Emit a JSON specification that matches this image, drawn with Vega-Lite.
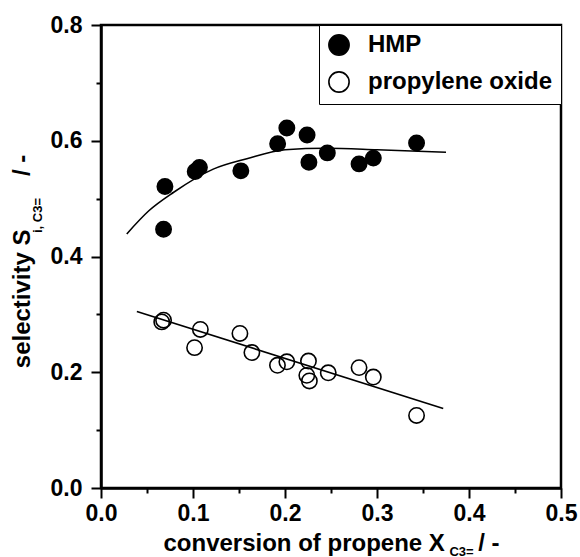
{
  "$schema": "https://vega.github.io/schema/vega-lite/v6.json",
  "width": 460,
  "height": 463,
  "autosize": {"type": "none"},
  "padding": {"left": 101, "top": 25, "right": 19, "bottom": 69},
  "background": "white",
  "config": {
    "font": "Liberation Sans",
    "view": {"stroke": "black", "strokeWidth": 2.5},
    "axis": {
      "grid": false,
      "domainColor": "black",
      "domainWidth": 2.5,
      "tickColor": "black",
      "tickWidth": 2,
      "labelFont": "Liberation Sans",
      "labelFontWeight": "bold",
      "labelFontSize": 23,
      "labelColor": "black",
      "labelFlush": false,
      "labelOverlap": false,
      "titleFont": "Liberation Sans",
      "titleFontWeight": "bold",
      "titleColor": "black"
    }
  },
  "data": {
    "values": [
      {"kind": "pt", "series": "HMP", "x": 0.068, "y": 0.447},
      {"kind": "pt", "series": "HMP", "x": 0.0695, "y": 0.521},
      {"kind": "pt", "series": "HMP", "x": 0.1024, "y": 0.547},
      {"kind": "pt", "series": "HMP", "x": 0.107, "y": 0.554},
      {"kind": "pt", "series": "HMP", "x": 0.152, "y": 0.548},
      {"kind": "pt", "series": "HMP", "x": 0.192, "y": 0.595},
      {"kind": "pt", "series": "HMP", "x": 0.202, "y": 0.622},
      {"kind": "pt", "series": "HMP", "x": 0.224, "y": 0.61},
      {"kind": "pt", "series": "HMP", "x": 0.226, "y": 0.563},
      {"kind": "pt", "series": "HMP", "x": 0.246, "y": 0.579},
      {"kind": "pt", "series": "HMP", "x": 0.2805, "y": 0.56},
      {"kind": "pt", "series": "HMP", "x": 0.296, "y": 0.57},
      {"kind": "pt", "series": "HMP", "x": 0.343, "y": 0.596},
      {"kind": "pt", "series": "propylene oxide", "x": 0.066, "y": 0.287},
      {"kind": "pt", "series": "propylene oxide", "x": 0.068, "y": 0.29},
      {"kind": "pt", "series": "propylene oxide", "x": 0.1017, "y": 0.2425},
      {"kind": "pt", "series": "propylene oxide", "x": 0.108, "y": 0.274},
      {"kind": "pt", "series": "propylene oxide", "x": 0.151, "y": 0.267},
      {"kind": "pt", "series": "propylene oxide", "x": 0.164, "y": 0.234},
      {"kind": "pt", "series": "propylene oxide", "x": 0.1918, "y": 0.212},
      {"kind": "pt", "series": "propylene oxide", "x": 0.202, "y": 0.218},
      {"kind": "pt", "series": "propylene oxide", "x": 0.2237, "y": 0.1946},
      {"kind": "pt", "series": "propylene oxide", "x": 0.2255, "y": 0.2194},
      {"kind": "pt", "series": "propylene oxide", "x": 0.2265, "y": 0.185},
      {"kind": "pt", "series": "propylene oxide", "x": 0.247, "y": 0.199},
      {"kind": "pt", "series": "propylene oxide", "x": 0.2805, "y": 0.208},
      {"kind": "pt", "series": "propylene oxide", "x": 0.296, "y": 0.1917},
      {"kind": "pt", "series": "propylene oxide", "x": 0.343, "y": 0.1254},
      {"kind": "fit", "series": "HMP", "x": 0.028, "y": 0.439},
      {"kind": "fit", "series": "HMP", "x": 0.052, "y": 0.479},
      {"kind": "fit", "series": "HMP", "x": 0.079, "y": 0.511},
      {"kind": "fit", "series": "HMP", "x": 0.122, "y": 0.551},
      {"kind": "fit", "series": "HMP", "x": 0.1585, "y": 0.569},
      {"kind": "fit", "series": "HMP", "x": 0.2, "y": 0.5845},
      {"kind": "fit", "series": "HMP", "x": 0.245, "y": 0.587},
      {"kind": "fit", "series": "HMP", "x": 0.3, "y": 0.5845},
      {"kind": "fit", "series": "HMP", "x": 0.375, "y": 0.58},
      {"kind": "fit", "series": "propylene oxide", "x": 0.039, "y": 0.305},
      {"kind": "fit", "series": "propylene oxide", "x": 0.372, "y": 0.1375}
    ]
  },
  "layer": [
    {
      "encoding": {
        "x": {
          "field": "x", "type": "quantitative",
          "scale": {"domain": [0, 0.5], "nice": false, "zero": false},
          "axis": {
            "orient": "bottom",
            "values": [0, 0.05, 0.1, 0.15, 0.2, 0.25, 0.3, 0.35, 0.4, 0.45, 0.5],
            "labelExpr": "round(datum.value*20)%2==0 ? format(datum.value,'.1f') : ''",
            "tickSize": {"condition": {"test": "round(datum.value*20)%2==1", "value": 5}, "value": 10},
            "labelPadding": 4,
            "title": "conversion of propene X\u00a0\u00a0\u00a0\u00a0\u00a0/ -",
            "titleFontSize": 24,
            "titleX": 230,
            "titleY": 62,
            "titleAlign": "center",
            "titleBaseline": "alphabetic"
          }
        },
        "y": {
          "field": "y", "type": "quantitative",
          "scale": {"domain": [0, 0.8], "nice": false, "zero": false},
          "axis": {
            "orient": "left",
            "values": [0, 0.1, 0.2, 0.3, 0.4, 0.5, 0.6, 0.7, 0.8],
            "labelExpr": "round(datum.value*10)%2==0 ? format(datum.value,'.1f') : ''",
            "tickSize": {"condition": {"test": "round(datum.value*10)%2==1", "value": 5}, "value": 10},
            "labelPadding": 9,
            "title": "selectivity S\u00a0\u00a0\u00a0\u00a0\u00a0\u00a0\u00a0\u00a0/ -",
            "titleFontSize": 24,
            "titleAngle": -90,
            "titleX": -72,
            "titleY": 236,
            "titleAlign": "center",
            "titleBaseline": "alphabetic"
          }
        }
      },
      "layer": [
        {
          "transform": [{"filter": "datum.kind == 'fit' && datum.series == 'HMP'"}],
          "mark": {"type": "line", "color": "black", "strokeWidth": 1.6, "interpolate": "monotone"},
          "encoding": {}
        },
        {
          "transform": [{"filter": "datum.kind == 'fit' && datum.series == 'propylene oxide'"}],
          "mark": {"type": "line", "color": "black", "strokeWidth": 1.6},
          "encoding": {}
        },
        {
          "transform": [{"filter": "datum.kind == 'pt'"}],
          "mark": {"type": "circle", "size": 235, "stroke": "black", "strokeWidth": 1.6, "opacity": 1},
          "encoding": {
            "fill": {
              "field": "series", "type": "nominal",
              "scale": {"domain": ["HMP", "propylene oxide"], "range": ["black", "transparent"]},
              "legend": {
                "title": null,
                "orient": "top-right",
                "offset": 0,
                "strokeColor": "black",
                "fillColor": "white",
                "padding": 8,
                "rowPadding": 9,
                "symbolType": "circle",
                "symbolSize": 410,
                "symbolStrokeColor": "black",
                "symbolStrokeWidth": 1.6,
                "labelFont": "Liberation Sans",
                "labelFontWeight": "bold",
                "labelFontSize": 24,
                "labelColor": "black",
                "labelOffset": 17,
                "labelLimit": 400
              }
            }
          }
        }
      ]
    },
    {
      "transform": [{"filter": "datum.kind == 'pt'"}],
      "mark": {"type": "circle", "opacity": 0},
      "encoding": {
        "x": {
          "field": "x", "type": "quantitative",
          "axis": {
            "orient": "bottom",
            "domain": false, "ticks": false, "labels": false,
            "title": "C3=",
            "titleFontSize": 13,
            "titleX": 360,
            "titleY": 67,
            "titleAlign": "center",
            "titleBaseline": "alphabetic"
          }
        },
        "y": {
          "field": "y", "type": "quantitative",
          "axis": {
            "orient": "left",
            "domain": false, "ticks": false, "labels": false,
            "title": "i, C3=",
            "titleFontSize": 13,
            "titleAngle": -90,
            "titleX": -60,
            "titleY": 190,
            "titleAlign": "center",
            "titleBaseline": "alphabetic"
          }
        }
      }
    }
  ],
  "resolve": {"axis": {"x": "independent", "y": "independent"}}
}
